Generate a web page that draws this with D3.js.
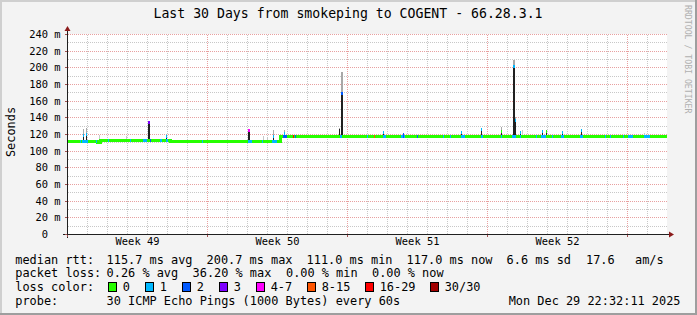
<!DOCTYPE html>
<html>
<head>
<meta charset="utf-8">
<script src="https://cdn.jsdelivr.net/npm/d3@7/dist/d3.min.js"></script>
<style>
  body { margin: 0; background: #f3f3f3; }
  svg { display: block; font-family: "DejaVu Sans Mono", monospace; }
</style>
</head>
<body>
<div id="container"></div>
<script>
/* CONSTANTS AND GLOBALS */
const width = 697;
const height = 315;

const title = "Last 30 Days from smokeping to COGENT - 66.28.3.1";

// y ticks (ms) and week labels (day offset of label centre)
const yMajorTicks = [0, 20, 40, 60, 80, 100, 120, 140, 160, 180, 200, 220, 240];
const yMinorTicks = [10, 30, 50, 70, 90, 110, 130, 150, 170, 190, 210, 230];
const weekDays = [7, 14, 21, 28];
const weekLabelDays = [3.5, 10.5, 17.5, 24.5];
const weekLabels = ["Week 49", "Week 50", "Week 51", "Week 52"];

// median rtt, [day, ms], holds until next step
const medianSteps = [
  [0, 112.1], [1.5, 110.6], [1.65, 112.8], [5.15, 112.0],
  [10.65, 118.0], [11.9, 117.0], [30, 117.0]
];

// loss colours (index = loss level)
const lossColors = ["#26ff00", "#00b8ff", "#0059ff", "#7e00ff", "#ff00ff", "#ff5500", "#ff0000", "#a10000"];
const lossNames = ["0", "1", "2", "3", "4-7", "8-15", "16-29", "30/30"];

// loss marks on the median: [day, span in days, loss level]
const lossMarks = [
  [0.65, 0.05, 1], [0.75, 0.3, 1], [1.45, 0.05, 1], [2.05, 0.05, 1], [3.15, 0.05, 1],
  [3.8, 0.2, 1], [4.15, 0.05, 2], [4.65, 0.1, 1], [4.95, 0.1, 1], [6.75, 0.05, 1],
  [9.05, 0.2, 1], [9.75, 0.05, 1], [10.25, 0.25, 1], [10.8, 0.2, 2], [11.3, 0.05, 6],
  [11.4, 0.05, 2], [13.65, 0.1, 1], [15.0, 0.05, 1], [15.35, 0.05, 5], [15.8, 0.15, 1],
  [16.7, 0.2, 1], [16.8, 0.05, 2], [17.5, 0.05, 2], [18.8, 0.05, 1], [19.15, 0.05, 1],
  [19.7, 0.2, 1], [20.7, 0.1, 1], [21.7, 0.05, 1], [22.25, 0.2, 1], [22.65, 0.05, 1],
  [23.45, 0.05, 1], [23.7, 0.25, 1], [24.25, 0.05, 1], [24.7, 0.15, 1], [25.65, 0.15, 1],
  [26.9, 0.05, 1], [27.15, 0.05, 1], [27.8, 0.05, 1], [28.05, 0.25, 1], [28.85, 0.3, 1]
];

// spikes: [day, dense top ms, smoke top ms, loss level at top, span in days]
const spikes = [
  [0.8, 118.5, 125.5, 1, 0.05], [0.95, 120, 127, 1, 0.05], [1.6, null, 119, null, 0.05],
  [2.95, null, 117.5, null, 0.05], [4.07, 135, 136, 3, 0.1], [4.95, 118, 119.5, 1, 0.05],
  [9.05, 124.5, 125.5, 4, 0.1], [9.8, null, 117.5, null, 0.05], [10.0, null, 116, null, 0.05],
  [10.3, 117, 125, 1, 0.05], [10.85, 121, 124.5, 1, 0.05], [13.6, 126, 127, null, 0.05],
  [13.7, 169.6, 194.4, 2, 0.1], [15.8, 122, 123, 1, 0.05], [16.8, 120, 121, 2, 0.05],
  [19.7, 122, 123, 1, 0.05], [20.7, 126, 127, 1, 0.05], [21.7, 123.6, 128.8, 0, 0.05],
  [22.29, 201.6, 208.8, 1, 0.1], [22.39, 136.8, 140, 1, 0.05], [22.65, 122.8, 123, 1, 0.05],
  [22.75, null, 125, null, 0.05], [23.73, 123.6, 124, 1, 0.05], [23.93, 124, 124.5, 0, 0.05],
  [24.73, 122.8, 123.5, 1, 0.05], [25.68, 124.8, 126, 1, 0.05], [28.85, null, 121.5, null, 0.05]
];

// legend texts
const rttStats = ["115.7 ms avg", "200.7 ms max", "111.0 ms min", "117.0 ms now", "6.6 ms sd", "17.6", "am/s"];
const lossStats = ["0.26 % avg", "36.20 % max", "0.00 % min", "0.00 % now"];
const probeText = "30 ICMP Echo Pings (1000 Bytes) every 60s";
const stampText = "Mon Dec 29 22:32:11 2025";

// SCALES
const x = d3.scaleLinear().domain([0, 30]).range([67, 667]);
const y = d3.scaleLinear().domain([0, 240]).rangeRound([234, 34]);

function medianAt(d) {
  let v = medianSteps[0][1];
  medianSteps.forEach(s => { if (s[0] <= d) v = s[1]; });
  return v;
}
const px = d => Math.round(x(d));
const span = (d, w) => Math.max(1, Math.round(x(d + w) - x(d)));

// SVG
const svg = d3.select("#container")
  .append("svg")
  .attr("width", width)
  .attr("height", height);

// background + shade frame
svg.append("rect").attr("width", width).attr("height", height).attr("fill", "#f3f3f3");
svg.append("path").attr("d", `M0,0H${width}V2H2V${height}H0Z`).attr("fill", "#cfcfcf");
svg.append("path").attr("d", `M${width},${height}H0V${height - 2}H${width - 2}V0H${width}Z`).attr("fill", "#9e9e9e");

// canvas
svg.append("rect")
  .attr("x", x(0)).attr("y", y(240))
  .attr("width", x(30) - x(0)).attr("height", y(0) - y(240))
  .attr("fill", "#ffffff");

// GRID
const grid = svg.append("g").attr("transform", "translate(0.5,0.5)")
  .attr("stroke-dasharray", "1,1").attr("stroke-width", 1).attr("shape-rendering", "crispEdges");

grid.selectAll(".ymin").data(yMinorTicks).join("line")
  .attr("class", "ymin")
  .attr("x1", x(0)).attr("x2", x(30))
  .attr("y1", d => y(d)).attr("y2", d => y(d))
  .attr("stroke", "#c8c8c8");

grid.selectAll(".xmin").data(d3.range(1, 30).filter(d => d % 7 !== 0)).join("line")
  .attr("class", "xmin")
  .attr("x1", px).attr("x2", px)
  .attr("y1", y(240)).attr("y2", y(0))
  .attr("stroke", "#c8c8c8");

grid.selectAll(".ymaj").data(yMajorTicks.slice(1)).join("line")
  .attr("class", "ymaj")
  .attr("x1", x(0)).attr("x2", x(30))
  .attr("y1", d => y(d)).attr("y2", d => y(d))
  .attr("stroke", "#e8a0a0");

grid.selectAll(".xmaj").data(weekDays).join("line")
  .attr("class", "xmaj")
  .attr("x1", px).attr("x2", px)
  .attr("y1", y(240)).attr("y2", y(0))
  .attr("stroke", "#e8a0a0");

// DATA
const plot = svg.append("g").attr("shape-rendering", "crispEdges");

// smoke
plot.selectAll(".smoke").data(spikes).join("rect")
  .attr("class", "smoke")
  .attr("x", d => px(d[0]))
  .attr("width", d => span(d[0], d[4]))
  .attr("y", d => y(d[2]))
  .attr("height", d => Math.max(0, y(d[1] === null ? medianAt(d[0]) : d[1]) - y(d[2])))
  .attr("fill", d => d[1] === null ? "#c8c8c8" : "#a8a8a8");

// dense part
plot.selectAll(".dense").data(spikes.filter(d => d[1] !== null)).join("rect")
  .attr("class", "dense")
  .attr("x", d => px(d[0]))
  .attr("width", d => span(d[0], d[4]))
  .attr("y", d => y(d[1]))
  .attr("height", d => y(medianAt(d[0])) - y(d[1]))
  .attr("fill", "#202020");

// median line
const line = d3.line()
  .x(d => x(d[0]))
  .y(d => y(d[1]) + 0.5)
  .curve(d3.curveStepAfter);

plot.append("path")
  .datum(medianSteps)
  .attr("d", line)
  .attr("fill", "none")
  .attr("stroke", lossColors[0])
  .attr("stroke-width", 3);

// loss marks
plot.selectAll(".loss").data(lossMarks).join("rect")
  .attr("class", "loss")
  .attr("x", d => px(d[0]))
  .attr("width", d => span(d[0], d[1]))
  .attr("y", d => y(medianAt(d[0])) - 1)
  .attr("height", 3)
  .attr("fill", d => lossColors[d[2]]);

// spike caps
plot.selectAll(".cap").data(spikes.filter(d => d[3] !== null)).join("rect")
  .attr("class", "cap")
  .attr("x", d => px(d[0]))
  .attr("width", d => span(d[0], d[4]))
  .attr("y", d => y(d[1]) - 1)
  .attr("height", 3)
  .attr("fill", d => lossColors[d[3]]);

// AXES
const ax = svg.append("g").attr("shape-rendering", "crispEdges");
ax.append("line").attr("x1", x(0) - 4).attr("x2", x(30) + 3)
  .attr("y1", y(0) + 0.5).attr("y2", y(0) + 0.5).attr("stroke", "#202020");
ax.append("line").attr("x1", x(0) + 0.5).attr("x2", x(0) + 0.5)
  .attr("y1", y(0) + 4).attr("y2", y(240) - 4).attr("stroke", "#202020");

// major ticks
ax.selectAll(".xt").data([0].concat(weekDays)).join("line")
  .attr("class", "xt")
  .attr("x1", d => px(d) + 0.5).attr("x2", d => px(d) + 0.5)
  .attr("y1", y(0) + 1).attr("y2", y(0) + 3).attr("stroke", "#a05050");
ax.selectAll(".yt").data(yMajorTicks).join("line")
  .attr("class", "yt")
  .attr("x1", x(0) - 2).attr("x2", x(0))
  .attr("y1", d => y(d) + 0.5).attr("y2", d => y(d) + 0.5).attr("stroke", "#a05050");

// arrows
svg.append("path")
  .attr("d", `M${x(30) + 2},${y(0) - 2.5}L${x(30) + 7},${y(0) + 0.5}L${x(30) + 2},${y(0) + 3.5}Z`)
  .attr("fill", "#8b1a1a");
svg.append("path")
  .attr("d", `M${x(0) - 2.5},${y(240) - 3}L${x(0) + 0.5},${y(240) - 8}L${x(0) + 3.5},${y(240) - 3}Z`)
  .attr("fill", "#8b1a1a");

// tick labels via d3 axes
const yAxis = svg.append("g")
  .attr("transform", `translate(${x(0)},0)`)
  .call(d3.axisLeft(y).tickValues(yMajorTicks).tickSize(0).tickPadding(6.5)
    .tickFormat(d => d === 0 ? "0" : d + " m"));
yAxis.select(".domain").remove();
yAxis.selectAll("text")
  .attr("font-family", "DejaVu Sans Mono").attr("font-size", "10.4px").attr("fill", "#000")
  .attr("dy", "0.32em")
  .filter(d => d === 0).attr("x", -19);

const xAxis = svg.append("g")
  .attr("transform", `translate(0,${y(0)})`)
  .call(d3.axisBottom(x).tickValues(weekLabelDays).tickSize(0).tickPadding(3.6)
    .tickFormat((d, i) => weekLabels[i]));
xAxis.select(".domain").remove();
xAxis.selectAll("text")
  .attr("font-family", "DejaVu Sans Mono").attr("font-size", "10.4px").attr("fill", "#000");

// TEXTS
svg.append("text")
  .attr("x", 348).attr("y", 18.3)
  .attr("text-anchor", "middle").attr("font-size", "13.2px")
  .text(title);

svg.append("text")
  .attr("transform", "translate(15,132) rotate(-90)")
  .attr("text-anchor", "middle").attr("font-size", "11.9px")
  .text("Seconds");

svg.append("text")
  .attr("transform", "translate(684.5,5) rotate(90)")
  .attr("font-size", "8.2px").attr("fill", "#b0b0b0")
  .text("RRDTOOL / TOBI OETIKER");

// LEGEND
const legend = svg.append("g").attr("font-size", "11.9px").attr("fill", "#000");
const rttX = [106.6, 206.6, 306.6, 406.6, 506.6, 586, 635];
const lossX = [106.6, 192.6, 286, 372];

legend.append("text").attr("x", 15.3).attr("y", 263.5).text("median rtt:");
legend.selectAll(".rtt").data(rttStats).join("text")
  .attr("class", "rtt")
  .attr("x", (d, i) => rttX[i]).attr("y", 263.5).text(d => d);

legend.append("text").attr("x", 15.3).attr("y", 277.3).text("packet loss:");
legend.selectAll(".pl").data(lossStats).join("text")
  .attr("class", "pl")
  .attr("x", (d, i) => lossX[i]).attr("y", 277.3).text(d => d);

legend.append("text").attr("x", 15.3).attr("y", 291).text("loss color:");
const boxX = [108.5, 145.5, 182.5, 219.5, 256.5, 307.5, 365.5, 430.5];
const sw = legend.selectAll(".sw").data(lossNames).join("g").attr("class", "sw");
sw.append("rect")
  .attr("x", (d, i) => boxX[i]).attr("y", 282.5)
  .attr("width", 8).attr("height", 9)
  .attr("fill", (d, i) => lossColors[i]).attr("stroke", "#000").attr("stroke-width", 1);
sw.append("text")
  .attr("x", (d, i) => boxX[i] + 14.2).attr("y", 291).text(d => d);

legend.append("text").attr("x", 15.3).attr("y", 305).text("probe:");
legend.append("text").attr("x", 106.6).attr("y", 305).text(probeText);
legend.append("text").attr("x", 680.5).attr("y", 305).attr("text-anchor", "end").text(stampText);
</script>
</body>
</html>
